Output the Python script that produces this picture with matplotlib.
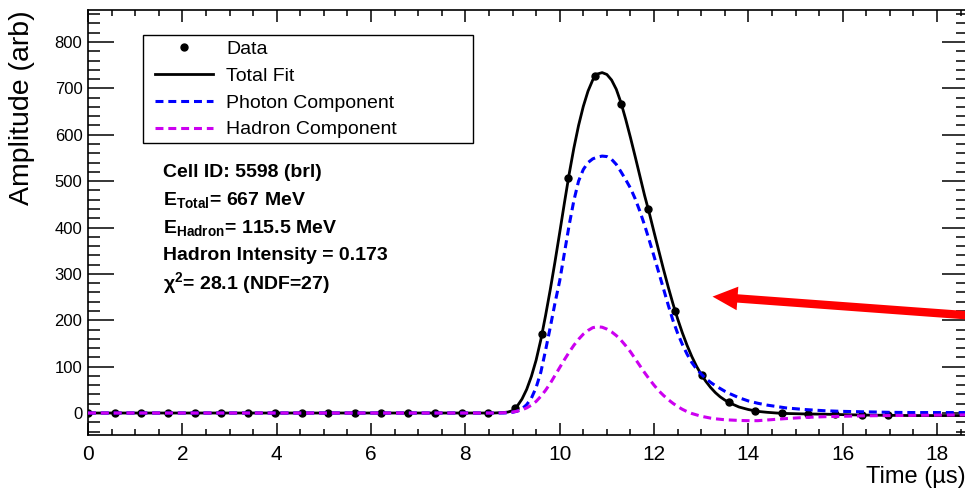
import matplotlib
matplotlib.use("Agg")
import matplotlib.pyplot as plt
from matplotlib.patches import Rectangle
from matplotlib.ticker import MultipleLocator

plt.rcParams['font.family'] = ['Liberation Sans', 'DejaVu Sans']
plt.rcParams['mathtext.fontset'] = 'custom'
plt.rcParams['mathtext.rm'] = 'Liberation Sans'
plt.rcParams['mathtext.bf'] = 'Liberation Sans:bold'
plt.rcParams['mathtext.it'] = 'Liberation Sans:italic'

# pulse samples (time in us, amplitude in arb)
sample_time = [0.00, 0.57, 1.13, 1.70, 2.26, 2.83, 3.39, 3.96, 4.53, 5.09,
               5.66, 6.22, 6.79, 7.35, 7.92, 8.49, 9.05, 9.62, 10.18, 10.75,
               11.31, 11.88, 12.45, 13.01, 13.58, 14.14, 14.71, 15.27, 15.84, 16.41,
               16.97]
sample_amp = [0, 0, 0, 0, 0, 0, 0, 0, 0, 0,
              0, 0, 0, 0, 0, 0, 11, 170, 507, 727,
              666, 440, 219, 82, 23, 4, 0, -2, -3, -4,
              -5]

# fit curves
fit_time = [0, 8.6, 8.8, 8.9, 9.0, 9.1, 9.2, 9.3, 9.4, 9.5,
            9.6, 9.7, 9.8, 9.9, 10.0, 10.1, 10.2, 10.3, 10.4, 10.5,
            10.6, 10.7, 10.8, 10.9, 11.0, 11.1, 11.2, 11.3, 11.4, 11.5,
            11.6, 11.7, 11.8, 11.9, 12.0, 12.1, 12.2, 12.3, 12.4, 12.5,
            12.6, 12.7, 12.8, 12.9, 13.0, 13.1, 13.2, 13.3, 13.4, 13.5,
            13.6, 13.8, 14.0, 14.2, 14.4, 14.6, 14.8, 15.2, 15.6, 16.0,
            16.5, 17.0, 17.5, 18.0, 18.7]
total_fit = [0, 0, 1, 2, 5, 15, 30, 51, 79, 114,
             158, 210, 266, 326, 389, 453, 515, 571, 620, 661,
             694, 718, 731, 734, 730, 718, 698, 669, 633, 594,
             553, 511, 469, 431, 390, 350, 310, 272, 236, 203,
             173, 146, 122, 101, 83, 68, 55, 44, 35, 28,
             22, 13, 7.5, 3.5, 1.5, 0, -1, -2, -2.5, -3.5,
             -4.5, -5, -5.5, -5.5, -5.5]
photon_fit = [0, 0, 0, 0.5, 1.5, 4, 9, 18, 32, 55,
              88, 135, 185, 237, 285, 345, 405, 458, 500, 525,
              540, 548, 552, 554, 553, 547, 536, 520, 503, 485,
              462, 435, 405, 372, 338, 303, 268, 233, 200, 172,
              148, 127, 109, 95, 84, 74, 66, 59, 53, 47,
              42, 33, 26, 21, 17, 14, 11, 7.5, 5, 3.5,
              2.5, 1.5, 1, 1, 1]
hadron_fit = [0, 0, 0.5, 1, 2, 4, 7, 11, 17, 25,
              36, 49, 64, 81, 98, 115, 131, 146, 159, 170,
              178, 184, 186, 185, 181, 175, 167, 157, 145, 132,
              117, 102, 87, 73, 60, 48, 38, 29, 21, 14,
              8, 3, -1, -4, -7, -9, -11, -12.5, -13.5, -14.5,
              -15, -16, -16.5, -16.5, -15, -13.5, -12, -9.5, -8, -7,
              -6, -5.5, -5, -4.5, -4]

info_lines = [
    "Cell ID: 5598 (brl)",
    r"$\mathbf{E}_{\mathbf{Total}}$= 667 MeV",
    r"$\mathbf{E}_{\mathbf{Hadron}}$= 115.5 MeV",
    "Hadron Intensity = 0.173",
    r"χ$^{\mathbf{2}}$= 28.1 (NDF=27)",
]

W, H = 965, 491
fig = plt.figure(figsize=(W / 100, H / 100), dpi=100)
ax = fig.add_axes([88 / W, 1 - 435 / H, (968 - 88) / W, (435 - 10) / H])

ax.plot(fit_time, total_fit, color='black', lw=2.0, zorder=2, label='Total Fit')
ax.plot(sample_time, sample_amp, 'o', color='black', ms=5, zorder=3, label='Data')
ax.plot(fit_time, photon_fit, color='#0000ff', lw=2.2, dashes=(2.6, 1.6), zorder=4,
        label='Photon Component')
ax.plot(fit_time, hadron_fit, color='#cc00f0', lw=2.2, dashes=(2.6, 1.6), zorder=5,
        label='Hadron Component')

ax.set_xlim(0, 18.656)
ax.set_ylim(-47.4, 869)
ax.xaxis.set_major_locator(MultipleLocator(2))
ax.xaxis.set_minor_locator(MultipleLocator(0.5))
ax.yaxis.set_major_locator(MultipleLocator(100))
ax.yaxis.set_minor_locator(MultipleLocator(20))
ax.tick_params(which='both', direction='in', top=True, right=True, width=1.1, color='black')
ax.tick_params(axis='x', which='major', length=8.6, labelsize=15, pad=7)
ax.tick_params(axis='x', which='minor', length=4.3)
ax.tick_params(axis='y', which='major', length=18.7, labelsize=12, pad=4)
ax.tick_params(axis='y', which='minor', length=8.6)
for s in ax.spines.values():
    s.set_linewidth(1.2)

fig.text(22 / W, 1 - 10 / H, 'Amplitude (arb)', rotation=90, ha='center', va='top', fontsize=20.5)
fig.text(966 / W, 1 - 477 / H, 'Time (µs)', ha='right', va='center', fontsize=17)

# legend: ROOT-like fixed box
h = ax.get_legend_handles_labels()
order = [1, 0, 2, 3]
leg = ax.legend([h[0][i] for i in order], [h[1][i] for i in order],
                loc='upper left', bbox_to_anchor=(155 / W, 1 - 40 / H),
                bbox_transform=fig.transFigure, frameon=False, fontsize=14,
                borderpad=0, borderaxespad=0, handlelength=3.0, handletextpad=0.67,
                labelspacing=0.48, numpoints=1)
fig.patches.append(Rectangle((143 / W, 1 - 143 / H), (473 - 143) / W, (143 - 35) / H,
                             transform=fig.transFigure, fill=False, edgecolor='black', lw=1.0))

for k, line in enumerate(info_lines):
    fig.text(163 / W, 1 - (173 + 27.5 * k) / H, line, ha='left', va='center',
             fontsize=14, fontweight='bold')

# red arrow pointing at the fit
ax.annotate('', xy=(13.24, 251), xytext=(19.4, 205), annotation_clip=False,
            arrowprops=dict(arrowstyle='simple,head_length=0.9,head_width=0.85,tail_width=0.3',
                            mutation_scale=20, color='#ff0000', lw=0, shrinkA=0, shrinkB=0))

fig.savefig('out.png', dpi=100)
